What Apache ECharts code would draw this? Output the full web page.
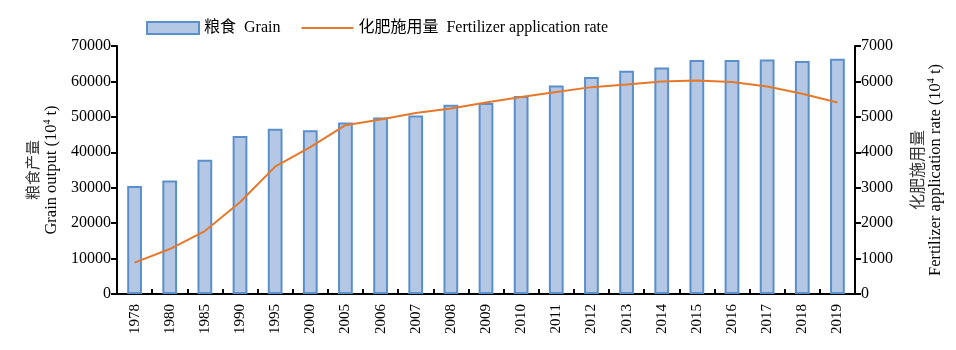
<!DOCTYPE html>
<html>
<head>
<meta charset="utf-8">
<script src="https://cdn.jsdelivr.net/npm/echarts@6/dist/echarts.min.js"></script>
<style>
  html, body { margin: 0; padding: 0; background: #fff; }
  #chart { width: 956px; height: 350px; }
</style>
</head>
<body>
<div id="chart"></div>
<script>
// Years on the category axis
const years = ['1978', '1980', '1985', '1990', '1995', '2000', '2005', '2006', '2007', '2008', '2009',
  '2010', '2011', '2012', '2013', '2014', '2015', '2016', '2017', '2018', '2019'];
// Grain output, 10^4 t
const grain = [30477, 32056, 37911, 44624, 46662, 46218, 48402, 49804, 50414, 53434, 53941,
  55911, 58849, 61223, 63048, 63965, 66060, 66044, 66161, 65789, 66384];
// Fertilizer application rate, 10^4 t
const fertilizer = [884, 1269, 1776, 2590, 3594, 4146, 4766, 4928, 5108, 5239, 5404,
  5562, 5704, 5839, 5912, 5996, 6023, 5984, 5859, 5653, 5404];

const FONT = '"Liberation Serif", "Noto Sans CJK SC", serif';
const chart = echarts.init(document.getElementById('chart'));

const axisLine = { show: true, lineStyle: { color: '#000', width: 2 } };
const nameRich = {
  cn: { fontFamily: '"Noto Sans CJK SC", sans-serif', fontSize: 15, color: '#333', lineHeight: 19 },
  cn2: { fontFamily: '"Noto Sans CJK SC", sans-serif', fontSize: 16, color: '#333', lineHeight: 19 },
  en: { fontFamily: FONT, fontSize: 16.5, color: '#000', lineHeight: 19 },
  sup: { fontFamily: FONT, fontSize: 10, color: '#000', verticalAlign: 'top', padding: [0, 0, 6, 0] }
};
const plain = v => String(v);

chart.setOption({
  animation: false,
  textStyle: { fontFamily: FONT },
  legend: {
    top: 15,
    left: 141,
    itemGap: 20,
    itemWidth: 52,
    itemHeight: 12,
    textStyle: { fontFamily: FONT, fontSize: 16, color: '#000' },
    data: [
      { name: '粮食  Grain', icon: 'rect' },
      { name: '化肥施用量  Fertilizer application rate', itemStyle: { opacity: 0 } }
    ]
  },
  grid: { left: 117, right: 101, top: 46, bottom: 56 },
  xAxis: {
    type: 'category',
    data: years,
    boundaryGap: true,
    axisLine: axisLine,
    axisTick: { show: true, inside: true, length: 5, lineStyle: { color: '#000', width: 2 } },
    axisLabel: { rotate: 90, fontSize: 15, color: '#000', fontFamily: FONT, margin: 10 }
  },
  yAxis: [
    {
      type: 'value', min: 0, max: 70000, interval: 10000,
      name: '{cn|粮食产量}\n{en|Grain output (10}{sup|4}{en| t)}',
      nameLocation: 'middle', nameRotate: 90, nameGap: 56,
      nameTextStyle: { rich: nameRich, align: 'center' },
      axisLine: axisLine,
      axisTick: { show: true, length: 6, lineStyle: { color: '#000', width: 2 } },
      axisLabel: { fontSize: 16, color: '#000', fontFamily: FONT, margin: 6, formatter: plain },
      splitLine: { show: false }
    },
    {
      type: 'value', min: 0, max: 7000, interval: 1000,
      name: '{cn2|化肥施用量}\n{en|Fertilizer application rate (10}{sup|4}{en| t)}',
      nameLocation: 'middle', nameRotate: 90, nameGap: 52,
      nameTextStyle: { rich: nameRich, align: 'center' },
      axisLine: axisLine,
      axisTick: { show: true, length: 6, lineStyle: { color: '#000', width: 2 } },
      axisLabel: { fontSize: 16, color: '#000', fontFamily: FONT, margin: 6, formatter: plain },
      splitLine: { show: false }
    }
  ],
  series: [
    {
      name: '粮食  Grain',
      type: 'bar',
      data: grain,
      barWidth: '42%',
      itemStyle: { color: '#B4C8E6', borderColor: '#5B8FCA', borderWidth: 2 }
    },
    {
      name: '化肥施用量  Fertilizer application rate',
      type: 'line',
      yAxisIndex: 1,
      data: fertilizer,
      symbol: 'none',
      lineStyle: { color: '#E6782A', width: 2 },
      itemStyle: { color: '#E6782A' }
    }
  ]
});
</script>
</body>
</html>
